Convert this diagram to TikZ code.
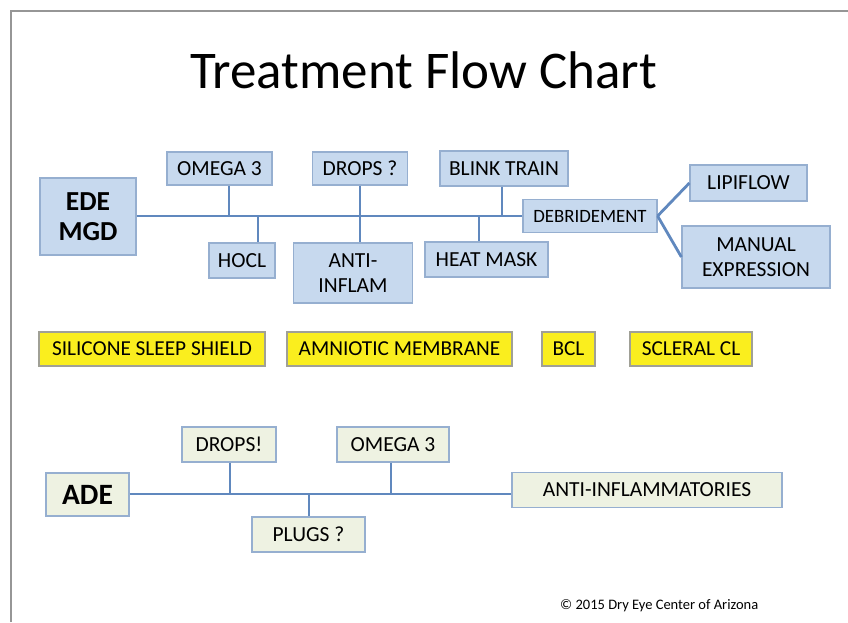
\documentclass[tikz,border=0pt]{standalone}
\usepackage{fontspec}
\setmainfont{Carlito}
\definecolor{bfill}{RGB}{199,217,238}
\definecolor{bdraw}{RGB}{150,175,208}
\definecolor{lblue}{RGB}{96,136,190}
\definecolor{gfill}{RGB}{238,242,226}
\definecolor{yfill}{RGB}{250,238,30}
\definecolor{ydraw}{RGB}{160,160,150}
\definecolor{framec}{RGB}{150,150,150}
\tikzset{
  bluebox/.style={draw=bdraw, fill=bfill, line width=1.2pt, inner sep=0pt, align=center,
    font=\fontsize{21.5}{25}\selectfont},
  greenbox/.style={draw=bdraw, fill=gfill, line width=1.2pt, inner sep=0pt, align=center,
    font=\fontsize{21.5}{25}\selectfont},
  yelbox/.style={draw=ydraw, fill=yfill, line width=1.2pt, inner sep=0pt, align=center,
    font=\fontsize{21.3}{25}\selectfont},
  conn/.style={draw=lblue, line width=2.8pt},
}
\begin{document}
\begin{tikzpicture}[x=1pt,y=-1pt]
\useasboundingbox (0,0) rectangle (848,622);
\fill[white] (0,0) rectangle (848,622);
% frame
\coordinate (fa) at (11,622);
\coordinate (fb) at (11,11);
\coordinate (fc) at (848,11);
\draw[framec, line width=1.5pt] (fa) -- (fb) -- (fc);
% title
\node[anchor=base, font=\fontsize{53}{60}\selectfont] (title) at (423.5,88) {Treatment Flow Chart};

% EDE / MGD section
\node[bluebox, minimum width=96pt, minimum height=77pt, font=\fontsize{27.5}{30}\selectfont\bfseries] (ede) at (88,216.5) {EDE\\MGD};
\node[bluebox, minimum width=105pt, minimum height=33pt] (om1) at (219.5,168.5) {OMEGA 3};
\node[bluebox, minimum width=95pt, minimum height=33pt] (dq) at (360,168.5) {DROPS ?};
\node[bluebox, minimum width=128pt, minimum height=35pt] (blink) at (504,168.5) {BLINK TRAIN};
\node[bluebox, minimum width=66pt, minimum height=35pt] (hocl) at (242,260.5) {HOCL};
\node[bluebox, minimum width=119pt, minimum height=60pt] (ainf) at (353,273) {ANTI-\\INFLAM};
\node[bluebox, minimum width=123pt, minimum height=35pt] (heat) at (486.5,259.5) {HEAT MASK};
\node[bluebox, minimum width=134pt, minimum height=33pt, font=\fontsize{18.8}{22}\selectfont] (debr) at (590,216) {DEBRIDEMENT};
\node[bluebox, minimum width=117pt, minimum height=36pt] (lipi) at (748.5,183) {LIPIFLOW};
\node[bluebox, minimum width=148pt, minimum height=62pt] (manual) at (756,257) {MANUAL\\EXPRESSION};

\coordinate (j1) at (229,216);
\coordinate (j2) at (258,216);
\coordinate (j3) at (360,216);
\coordinate (j4) at (502,216);
\coordinate (j5) at (479,216);
\path[conn] (ede.east |- j1) -- (debr.west);
\path[conn] (j1 |- om1.south) -- (j1);
\path[conn] (j2) -- (j2 |- hocl.north);
\path[conn] (j3 |- dq.south) -- (j3 |- ainf.north);
\path[conn] (j4 |- blink.south) -- (j4);
\path[conn] (j5) -- (j5 |- heat.north);
\path[conn] (debr.east) -- (lipi.west);
\path[conn] (debr.east) -- (manual.west);

% yellow row
\node[yelbox, minimum width=226pt, minimum height=34pt] (sil) at (152,349) {SILICONE SLEEP SHIELD};
\node[yelbox, minimum width=225pt, minimum height=34pt] (amn) at (399.5,349) {AMNIOTIC MEMBRANE};
\node[yelbox, minimum width=53pt, minimum height=34pt] (bcl) at (568.5,349) {BCL};
\node[yelbox, minimum width=122pt, minimum height=34pt] (scl) at (691,349) {SCLERAL CL};

% ADE section
\node[greenbox, minimum width=83pt, minimum height=43pt, font=\fontsize{29.5}{32}\selectfont\bfseries] (ade) at (87.5,494.5) {ADE};
\node[greenbox, minimum width=94pt, minimum height=35pt] (dx) at (229,444.5) {DROPS!};
\node[greenbox, minimum width=112pt, minimum height=35pt] (om2) at (393,444.5) {OMEGA 3};
\node[greenbox, minimum width=113pt, minimum height=35pt] (plugs) at (308.5,534.5) {PLUGS ?};
\node[greenbox, minimum width=270pt, minimum height=35pt] (aall) at (647,490) {ANTI-INFLAMMATORIES};

\coordinate (k1) at (230,494);
\coordinate (k2) at (391,494);
\coordinate (k3) at (309,494);
\path[conn] (ade.east |- k1) -- (aall.west |- k1);
\path[conn] (k1 |- dx.south) -- (k1);
\path[conn] (k2 |- om2.south) -- (k2);
\path[conn] (k3) -- (k3 |- plugs.north);

% footer
\node[anchor=base west, font=\fontsize{14.5}{17}\selectfont, inner sep=0pt] (foot) at (560,609) {© 2015 Dry Eye Center of Arizona};
\end{tikzpicture}
\end{document}
